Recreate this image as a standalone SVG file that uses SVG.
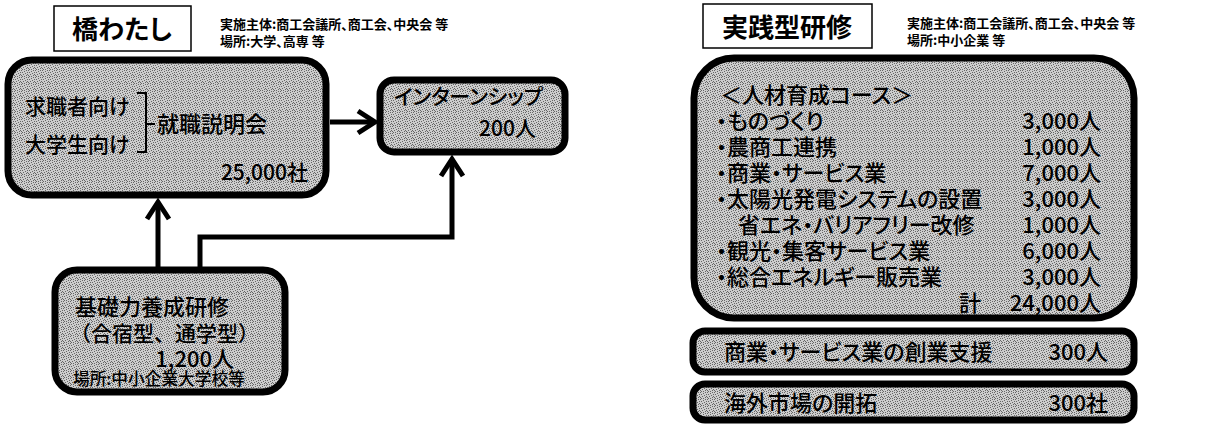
<svg xmlns="http://www.w3.org/2000/svg" width="1222" height="427" viewBox="0 0 1222 427">
<style>
.t{font-family:"Noto Sans CJK JP","Noto Sans CJK SC",sans-serif;font-feature-settings:"palt" 1;fill:#000;font-weight:500}
.b{font-size:22px}
.m{font-size:21px}
.s{font-size:16.7px}
.h{font-size:13px;font-weight:bold}
.ttl{font-size:26px;font-weight:bold}
.np{font-feature-settings:normal}
.e{text-anchor:end}
.mid{text-anchor:middle}
.node{fill:url(#dots);stroke:#000;stroke-width:7}
.tb{fill:#fff;stroke:#000;stroke-width:1.5}
.c{fill:none;stroke:#000;stroke-width:5}
.br{fill:none;stroke:#000;stroke-width:2}
.dk{fill:#666}
</style>
<defs>
<pattern id="dots" width="7" height="7" patternUnits="userSpaceOnUse">
<rect width="7" height="7" fill="#cdcdcd"/>
<rect class="dk" x="0" y="0" width="1" height="1"/>
<rect class="dk" x="5" y="0" width="1" height="1"/>
<rect class="dk" x="3" y="1" width="1" height="1"/>
<rect class="dk" x="1" y="2" width="1" height="1"/>
<rect class="dk" x="6" y="2" width="1" height="1"/>
<rect class="dk" x="4" y="3" width="1" height="1"/>
<rect class="dk" x="2" y="4" width="1" height="1"/>
<rect class="dk" x="6" y="4" width="1" height="1"/>
<rect class="dk" x="0" y="5" width="1" height="1"/>
<rect class="dk" x="5" y="5" width="1" height="1"/>
<rect class="dk" x="1" y="6" width="1" height="1"/>
<rect class="dk" x="3" y="6" width="1" height="1"/>
</pattern>
<marker id="arr" markerUnits="userSpaceOnUse" viewBox="-24 -14 28 28" markerWidth="28" markerHeight="28" refX="0" refY="0" orient="auto" overflow="visible">
<path d="M-17,-11 L0,0 L-17,11" fill="none" stroke="#000" stroke-width="5"/>
</marker>
</defs>
<rect width="1222" height="427" fill="#fff"/>

<g id="title-left">
<rect class="tb" x="54" y="6" width="137" height="45"/>
<text class="t ttl mid" x="122" y="39">橋わたし</text>
</g>
<g id="header-left">
<text class="t h" x="220" y="29">実施主体:商工会議所、商工会、中央会 等</text>
<text class="t h" x="220" y="46">場所:大学、高専 等</text>
</g>

<g id="node-setsumeikai">
<rect class="node" x="8" y="60" width="318" height="135" rx="24"/>
<text class="t m" x="25" y="114">求職者向け</text>
<text class="t m" x="25" y="152">大学生向け</text>
<path class="br" d="M137,93 H146 V152 H137 M146,124 H155"/>
<text class="t b" x="157" y="132">就職説明会</text>
<text class="t m e" x="308" y="180">25,000社</text>
</g>

<g id="node-intern">
<rect class="node" x="380" y="80" width="185" height="72" rx="14"/>
<text class="t m" x="394" y="104">インターンシップ</text>
<text class="t m e" x="536" y="136">200人</text>
</g>

<g id="node-kiso">
<rect class="node" x="55" y="270" width="230" height="122" rx="22"/>
<text class="t b" x="75" y="315">基礎力養成研修</text>
<text class="t m np" x="70" y="341">（合宿型、通学型）</text>
<text class="t b e" x="234" y="367">1,200人</text>
<text class="t s" x="73" y="385">場所:中小企業大学校等</text>
</g>

<g id="title-right">
<rect class="tb" x="703" y="4" width="169" height="44"/>
<text class="t ttl mid" x="787" y="37">実践型研修</text>
</g>
<g id="header-right">
<text class="t h" x="907" y="28">実施主体:商工会議所、商工会、中央会 等</text>
<text class="t h" x="907" y="45">場所:中小企業 等</text>
</g>

<g id="node-course">
<rect class="node" x="694" y="58" width="440" height="260" rx="40"/>
<text class="t b" x="720" y="103">＜人材育成コース＞</text>
<text class="t b" x="716" y="129">・ものづくり</text>
<text class="t b" x="716" y="155">・農商工連携</text>
<text class="t b" x="716" y="181">・商業・サービス業</text>
<text class="t b" x="716" y="207">・太陽光発電システムの設置</text>
<text class="t b" x="738" y="233">省エネ・バリアフリー改修</text>
<text class="t b" x="716" y="259">・観光・集客サービス業</text>
<text class="t b" x="716" y="285">・総合エネルギー販売業</text>
<text class="t b e" x="1101" y="129">3,000人</text>
<text class="t b e" x="1101" y="155">1,000人</text>
<text class="t b e" x="1101" y="181">7,000人</text>
<text class="t b e" x="1101" y="207">3,000人</text>
<text class="t b e" x="1101" y="233">1,000人</text>
<text class="t b e" x="1101" y="259">6,000人</text>
<text class="t b e" x="1101" y="285">3,000人</text>
<text class="t b" x="959" y="311">計</text>
<text class="t b e" x="1101" y="311">24,000人</text>
</g>

<g id="node-sogyo">
<rect class="node" x="693" y="331" width="441" height="41" rx="12"/>
<text class="t b" x="724" y="360">商業・サービス業の創業支援</text>
<text class="t b e" x="1108" y="360">300人</text>
</g>

<g id="node-kaigai">
<rect class="node" x="693" y="384" width="441" height="36" rx="12"/>
<text class="t b" x="724" y="411">海外市場の開拓</text>
<text class="t b e" x="1108" y="411">300社</text>
</g>

<g id="connectors">
<path class="c" d="M330,122 H375" marker-end="url(#arr)"/>
<path class="c" d="M158,267 V202" marker-end="url(#arr)"/>
<path class="c" d="M200,267 V237 H452 V159" marker-end="url(#arr)"/>
</g>
</svg>
